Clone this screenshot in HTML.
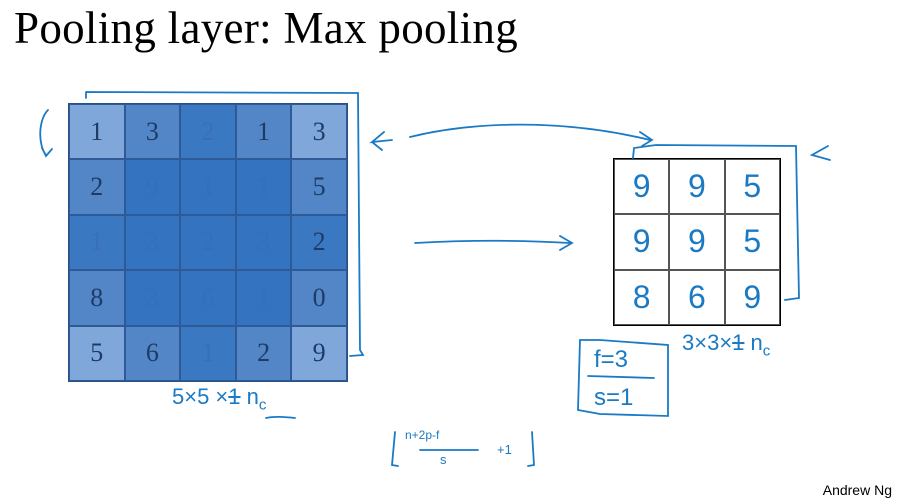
<!DOCTYPE html>
<html><head><meta charset="utf-8"><style>
body{margin:0;width:904px;height:503px;background:#fff;overflow:hidden;position:relative;font-family:"Liberation Serif",serif}
.t{position:absolute;left:14px;top:2px;font-size:45px;color:#000;letter-spacing:0.3px}
.g{position:absolute;left:68px;top:103px;display:grid;grid-template-columns:repeat(5,55.6px);grid-template-rows:repeat(5,55.4px);border:1px solid #2a4f85}
.g div{border:0.5px solid #2e5a96;display:flex;align-items:center;justify-content:center;font-size:26px;color:#1e3b66}
.L{background:#80a7da}.M{background:#5286c7}.D{background:#3a78c2}.X{background:#3373c0}
.f{color:#3a6fb3 !important}
.X.f{color:#3270ba !important}
.r{position:absolute;left:613px;top:158px;display:grid;grid-template-columns:repeat(3,55.3px);grid-template-rows:repeat(3,55.3px);border:1px solid #000}
.r div{border:1px solid #555;display:flex;align-items:center;justify-content:center;font-size:32px;color:#1a7ac4;font-family:"Liberation Sans",sans-serif;font-weight:300}
.h{position:absolute;color:#1a7ac4;font-family:"Liberation Sans",sans-serif}
.an{position:absolute;right:12px;top:482px;font-family:"Liberation Sans",sans-serif;font-size:14px}
</style></head><body>
<div class="t">Pooling layer: Max pooling</div>
<div class="g">
<div class="L">1</div><div class="M">3</div><div class="D f">2</div><div class="M">1</div><div class="L">3</div>
<div class="M">2</div><div class="X f">9</div><div class="X f">1</div><div class="X f">1</div><div class="M">5</div>
<div class="D f">1</div><div class="X f">3</div><div class="X f">2</div><div class="X f">3</div><div class="D">2</div>
<div class="M">8</div><div class="X f">3</div><div class="X f">6</div><div class="X f">1</div><div class="M">0</div>
<div class="L">5</div><div class="M">6</div><div class="D f">1</div><div class="M">2</div><div class="L">9</div>
</div>
<div class="r"><div>9</div><div>9</div><div>5</div><div>9</div><div>9</div><div>5</div><div>8</div><div>6</div><div>9</div></div>
<svg width="904" height="503" style="position:absolute;left:0;top:0" fill="none" stroke="#1a7ac4" stroke-width="1.8" stroke-linecap="round">
<path d="M86 92 L86 98 M86 92 L358 93 L360 350 L363 355 L350 356"/>
<path d="M48 110 C38 120,38 145,46 155 M42 148 L46 156 L52 149"/>
<path d="M392 140 L372 142 L384 132 M372 142 L382 150"/>
<path d="M410 137 C470 122,560 118,650 140 M640 132 L652 140 L642 146"/>
<path d="M415 243 C470 240,520 240,570 243 M560 236 L572 243 L560 250"/>
<path d="M633 158 L634 148 L656 145 L796 146 L799 298 L785 300"/>
<path d="M828 146 L812 155 L830 160"/>
<path d="M266 418 C275 416,285 417,295 418"/>
<path d="M580 340 L578 410 L600 414 L668 416 L668 345 L600 340 Z M588 376 L654 378"/>
<path d="M395 432 L392 465 L398 466 M532 432 L534 465 L528 466 M420 450 L478 450"/>
</svg>
<div class="h" style="left:172px;top:384px;font-size:22px">5×5 ×<s>1</s> n<sub style="font-size:15px">c</sub></div>
<div class="h" style="left:682px;top:330px;font-size:22px">3×3×<s>1</s> n<sub style="font-size:15px">c</sub></div>
<div class="h" style="left:594px;top:346px;font-size:24px">f=3</div>
<div class="h" style="left:594px;top:384px;font-size:24px">s=1</div>
<div class="h" style="left:405px;top:428px;font-size:12px">n+2p-f</div>
<div class="h" style="left:440px;top:452px;font-size:13px">s</div>
<div class="h" style="left:497px;top:442px;font-size:13px">+1</div>
<div class="an">Andrew Ng</div>
</body></html>
